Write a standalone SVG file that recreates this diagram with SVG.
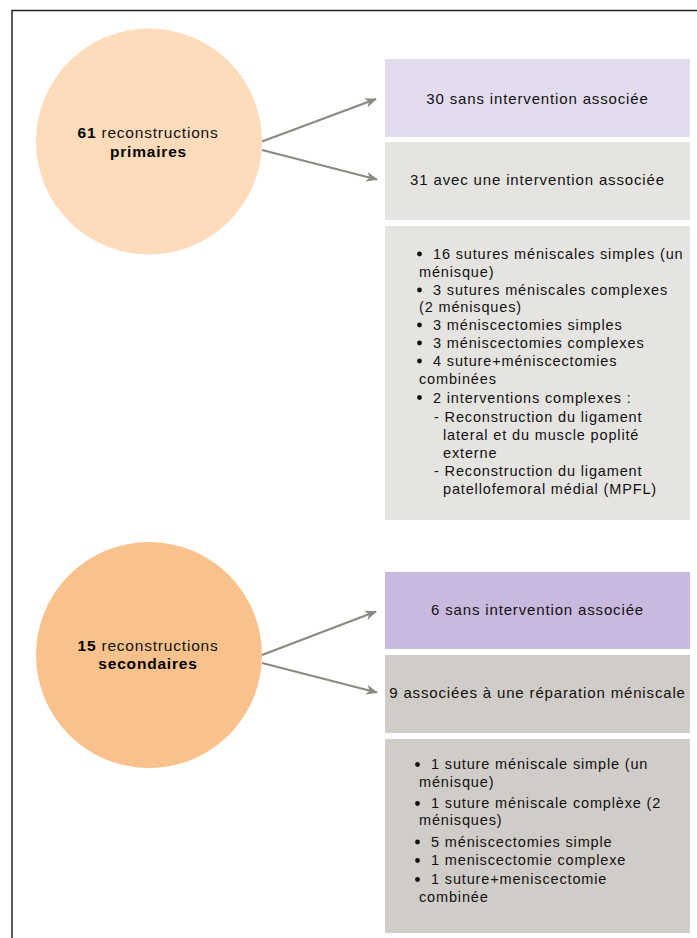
<svg xmlns="http://www.w3.org/2000/svg" width="697" height="938" viewBox="0 0 697 938">
<style>
text{font-family:"Liberation Sans",Arial,sans-serif;fill:#111}
.c{font-size:15.5px;letter-spacing:0.8px;text-anchor:middle}
.b{font-weight:bold;fill:#000}
.h{font-size:15px;letter-spacing:0.85px;text-anchor:middle}
.l{font-size:14.5px;letter-spacing:0.85px}
.con{stroke:#8a897f;stroke-width:2.2;fill:none}
</style>
<defs>
<marker id="ah" viewBox="0 0 12 10" refX="11" refY="5" markerWidth="12" markerHeight="10" markerUnits="userSpaceOnUse" orient="auto">
<path d="M0,0 L12,5 L0,10 L3.5,5 z" fill="#8a897f"/>
</marker>
</defs>
<rect width="697" height="938" fill="#fff"/>
<path d="M12,938 V10.5 H697" fill="none" stroke="#222" stroke-width="1.5"/>

<g id="connectors">
<line class="con" x1="262" y1="141.5" x2="376" y2="99" marker-end="url(#ah)"/>
<line class="con" x1="262" y1="150" x2="377" y2="179.5" marker-end="url(#ah)"/>
<line class="con" x1="262" y1="655" x2="376" y2="611.5" marker-end="url(#ah)"/>
<line class="con" x1="262" y1="663" x2="377" y2="692.5" marker-end="url(#ah)"/>
</g>

<g id="primaires">
<circle cx="149" cy="141.5" r="113" fill="#fddbbb"/>
<text class="c" x="148" y="138"><tspan class="b">61</tspan> reconstructions</text>
<text class="c b" x="148.5" y="157">primaires</text>
</g>

<g id="secondaires">
<circle cx="149" cy="655" r="113" fill="#f9c28d"/>
<text class="c" x="148" y="651"><tspan class="b">15</tspan> reconstructions</text>
<text class="c b" x="148" y="669">secondaires</text>
</g>

<g id="p-sans">
<rect x="385" y="59" width="305" height="78" fill="#e2dcee"/>
<text class="h" x="537.5" y="104">30 sans intervention associée</text>
</g>

<g id="p-avec">
<rect x="385" y="142" width="305" height="78" fill="#e6e4e1"/>
<text class="h" x="537.5" y="185">31 avec une intervention associée</text>
</g>

<g id="p-liste">
<rect x="385" y="226" width="305" height="294" fill="#e6e4e1"/>
<g fill="#111">
<circle cx="419.5" cy="254" r="2.4"/>
<circle cx="419.5" cy="290" r="2.4"/>
<circle cx="419.5" cy="325" r="2.4"/>
<circle cx="419.5" cy="343" r="2.4"/>
<circle cx="419.5" cy="361" r="2.4"/>
<circle cx="419.5" cy="397.5" r="2.4"/>
</g>
<text class="l" x="433" y="259">16 sutures méniscales simples (un</text>
<text class="l" x="419" y="277">ménisque)</text>
<text class="l" x="433" y="295">3 sutures méniscales complexes</text>
<text class="l" x="419" y="312">(2 ménisques)</text>
<text class="l" x="433" y="330">3 méniscectomies simples</text>
<text class="l" x="433" y="348">3 méniscectomies complexes</text>
<text class="l" x="433" y="366">4 suture+méniscectomies</text>
<text class="l" x="419" y="384">combinées</text>
<text class="l" x="433" y="402.5">2 interventions complexes :</text>
<text class="l" x="434" y="421.5">- Reconstruction du ligament</text>
<text class="l" x="443" y="440">lateral et du muscle poplité</text>
<text class="l" x="443" y="457.5">externe</text>
<text class="l" x="434" y="476">- Reconstruction du ligament</text>
<text class="l" x="443" y="494">patellofemoral médial (MPFL)</text>
</g>

<g id="s-sans">
<rect x="385" y="572" width="305" height="77" fill="#c9b9de"/>
<text class="h" x="537.5" y="614.5">6 sans intervention associée</text>
</g>

<g id="s-assoc">
<rect x="385" y="655" width="305" height="78" fill="#d0ccc7"/>
<text class="h" x="537.5" y="698">9 associées à une réparation méniscale</text>
</g>

<g id="s-liste">
<rect x="385" y="739" width="305" height="194" fill="#d0ccc7"/>
<g fill="#111">
<circle cx="417.5" cy="764.5" r="2.4"/>
<circle cx="417.5" cy="803.5" r="2.4"/>
<circle cx="417.5" cy="842" r="2.4"/>
<circle cx="417.5" cy="860.5" r="2.4"/>
<circle cx="417.5" cy="879.5" r="2.4"/>
</g>
<text class="l" x="431" y="769">1 suture méniscale simple (un</text>
<text class="l" x="419" y="787">ménisque)</text>
<text class="l" x="431" y="808">1 suture méniscale complèxe (2</text>
<text class="l" x="419" y="825">ménisques)</text>
<text class="l" x="431" y="847">5 méniscectomies simple</text>
<text class="l" x="431" y="865">1 meniscectomie complexe</text>
<text class="l" x="431" y="884">1 suture+meniscectomie</text>
<text class="l" x="419" y="902">combinée</text>
</g>
</svg>
